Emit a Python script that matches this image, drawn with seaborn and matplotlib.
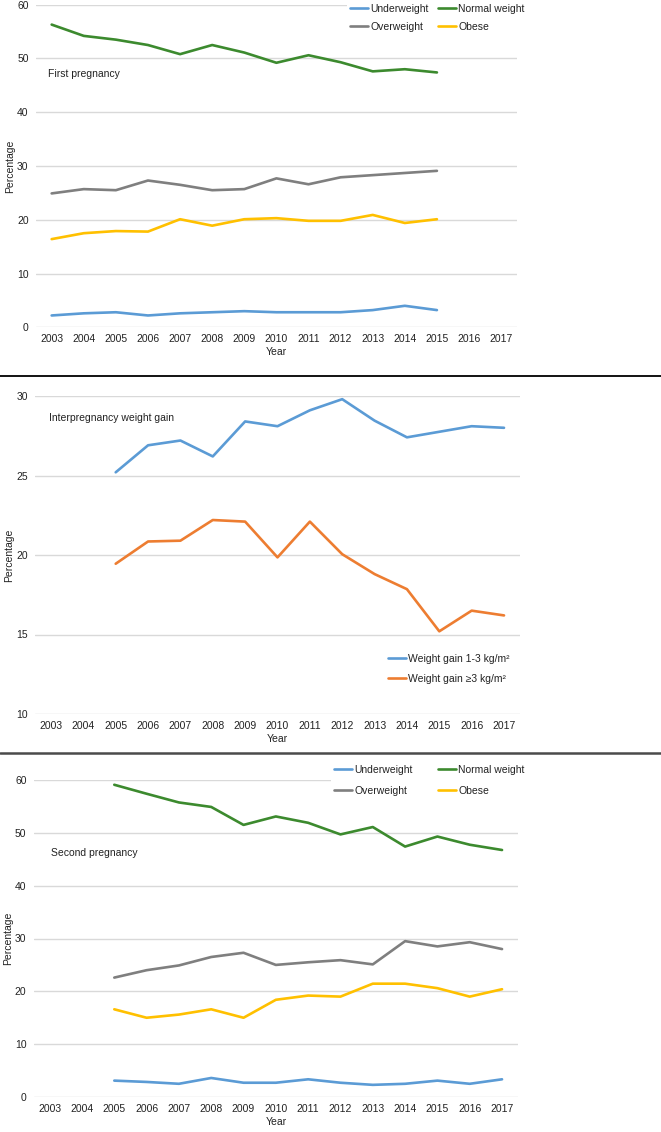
import matplotlib
matplotlib.use("Agg")
import matplotlib.pyplot as plt
from matplotlib.lines import Line2D
import numpy as np
import pandas as pd
import seaborn as sns

# ---- data ----
years_all = list(range(2003, 2018))
years_first = list(range(2003, 2016))
years_later = list(range(2005, 2018))

first_under = [2.2, 2.6, 2.8, 2.2, 2.6, 2.8, 3.0, 2.8, 2.8, 2.8, 3.2, 4.0, 3.2]
first_normal = [56.3, 54.2, 53.5, 52.5, 50.8, 52.5, 51.1, 49.2, 50.6, 49.3, 47.6, 48.0, 47.4]
first_over = [24.9, 25.7, 25.5, 27.3, 26.5, 25.5, 25.7, 27.7, 26.6, 27.9, 28.3, 28.7, 29.1]
first_obese = [16.4, 17.5, 17.9, 17.8, 20.1, 18.9, 20.1, 20.3, 19.8, 19.8, 20.9, 19.4, 20.1]

gain_1_3 = [25.2, 26.9, 27.2, 26.2, 28.4, 28.1, 29.1, 29.8, 28.45, 27.4, 27.75, 28.1, 28.0]
gain_3 = [19.45, 20.85, 20.9, 22.2, 22.1, 19.85, 22.1, 20.05, 18.8, 17.85, 15.2, 16.5, 16.2]

second_under = [3.1, 2.85, 2.5, 3.6, 2.7, 2.7, 3.35, 2.7, 2.3, 2.5, 3.1, 2.5, 3.35]
second_normal = [59.1, 57.4, 55.75, 54.9, 51.5, 53.1, 51.9, 49.7, 51.1, 47.4, 49.3, 47.75, 46.75]
second_over = [22.6, 24.0, 24.9, 26.5, 27.3, 25.0, 25.5, 25.9, 25.1, 29.5, 28.5, 29.3, 28.0]
second_obese = [16.6, 15.0, 15.6, 16.6, 15.0, 18.4, 19.2, 19.0, 21.45, 21.45, 20.6, 19.0, 20.4]

BMI_LABELS = ["Underweight", "Normal weight", "Overweight", "Obese"]
BMI_COLORS = ["#5B9BD5", "#3C8A2E", "#7F7F7F", "#FFC000"]
GAIN_LABELS = ["Weight gain 1-3 kg/m²", "Weight gain ≥3 kg/m²"]
GAIN_COLORS = ["#5B9BD5", "#ED7D31"]

sns.set_theme(style="white")
plt.rcParams["font.family"] = ["Liberation Sans Narrow", "Liberation Sans", "DejaVu Sans"]
FS = 7.5
LW = 1.9
GRID = "#D9D9D9"
TXT = "#222222"
W, H = 661, 1132


def long_df(years, series, labels):
    frames = [pd.DataFrame({"Year": years, "value": s, "group": lab})
              for s, lab in zip(series, labels)]
    return pd.concat(frames, ignore_index=True)


def make_axes(fig, left_px, right_px, top_px, bottom_px):
    return fig.add_axes([left_px / W, 1 - bottom_px / H,
                         (right_px - left_px) / W, (bottom_px - top_px) / H])


def style_axes(ax, ylim, yticks):
    ax.set_xlim(2002.5, 2017.5)
    ax.set_ylim(*ylim)
    ax.set_xticks(years_all)
    ax.set_xticklabels([str(y) for y in years_all])
    ax.set_yticks(yticks)
    for s in ax.spines.values():
        s.set_visible(False)
    ax.grid(False)
    for t in yticks:
        ax.axhline(t, color=GRID, lw=1.0, zorder=0)
    ax.tick_params(axis="both", length=0, labelsize=FS, colors=TXT)
    ax.tick_params(axis="x", pad=5)
    ax.tick_params(axis="y", pad=5)
    ax.set_xlabel("Year", fontsize=FS, labelpad=2, color=TXT)
    ax.set_ylabel("Percentage", fontsize=FS, color=TXT)
    ax.yaxis.set_label_coords(-0.043, 0.5)


fig = plt.figure(figsize=(W / 100, H / 100), dpi=100)

# ---- panel 1: first pregnancy ----
ax1 = make_axes(fig, 35.6, 517.2, 4.7, 327.3)
df1 = long_df(years_first, [first_under, first_normal, first_over, first_obese], BMI_LABELS)
sns.lineplot(data=df1, x="Year", y="value", hue="group", hue_order=BMI_LABELS,
             palette=BMI_COLORS, lw=LW, ax=ax1, legend=False)
style_axes(ax1, (0, 60), [0, 10, 20, 30, 40, 50, 60])
ax1.text(0.026, 0.785, "First pregnancy", transform=ax1.transAxes,
         fontsize=FS, va="center", ha="left", color=TXT)

# ---- panel 2: interpregnancy weight gain ----
ax2 = make_axes(fig, 34.8, 520.2, 396, 714)
df2 = long_df(years_later, [gain_1_3, gain_3], GAIN_LABELS)
sns.lineplot(data=df2, x="Year", y="value", hue="group", hue_order=GAIN_LABELS,
             palette=GAIN_COLORS, lw=LW, ax=ax2, legend=False)
style_axes(ax2, (10, 30), [10, 15, 20, 25, 30])
ax2.text(0.029, 0.931, "Interpregnancy weight gain", transform=ax2.transAxes,
         fontsize=FS, va="center", ha="left", color=TXT)

# ---- panel 3: second pregnancy ----
ax3 = make_axes(fig, 33.5, 518.2, 780, 1097)
df3 = long_df(years_later, [second_under, second_normal, second_over, second_obese], BMI_LABELS)
sns.lineplot(data=df3, x="Year", y="value", hue="group", hue_order=BMI_LABELS,
             palette=BMI_COLORS, lw=LW, ax=ax3, legend=False)
style_axes(ax3, (0, 60), [0, 10, 20, 30, 40, 50, 60])
ax3.text(0.036, 0.770, "Second pregnancy", transform=ax3.transAxes,
         fontsize=FS, va="center", ha="left", color=TXT)


def bmi_handles():
    # ordered so that ncol=2 reads row-wise: Underweight, Normal / Overweight, Obese
    order = [0, 2, 1, 3]
    hs = [Line2D([], [], color=BMI_COLORS[i], lw=LW) for i in order]
    ls = [BMI_LABELS[i] for i in order]
    return hs, ls


legend_kw = dict(fontsize=FS, frameon=True, facecolor="white", edgecolor="none",
                 framealpha=1.0, handlelength=1.7, handletextpad=0.25,
                 borderpad=0.3, borderaxespad=0, bbox_transform=fig.transFigure)

hs, ls = bmi_handles()
leg1 = ax1.legend(hs, ls, ncol=2, loc="upper left", columnspacing=0.9,
                  labelspacing=0.75, bbox_to_anchor=(347 / W, 1 - 1 / H), **legend_kw)
leg1.set_zorder(10)
for t in leg1.get_texts():
    t.set_color(TXT)

hs2 = [Line2D([], [], color=c, lw=LW) for c in GAIN_COLORS]
leg2 = ax2.legend(hs2, GAIN_LABELS, ncol=1, loc="upper left", labelspacing=0.9,
                  bbox_to_anchor=(385 / W, 1 - 651 / H), **legend_kw)
for t in leg2.get_texts():
    t.set_color(TXT)

hs, ls = bmi_handles()
leg3 = ax3.legend(hs, ls, ncol=2, loc="upper left", columnspacing=2.4,
                  labelspacing=1.05, bbox_to_anchor=(331 / W, 1 - 762 / H), **legend_kw)
for t in leg3.get_texts():
    t.set_color(TXT)

# panel separators
fig.add_artist(Line2D([0, 1], [1 - 376 / H, 1 - 376 / H], transform=fig.transFigure,
                      color="black", lw=1.3))
fig.add_artist(Line2D([0, 1], [1 - 753 / H, 1 - 753 / H], transform=fig.transFigure,
                      color="#4A4A4A", lw=1.8))

fig.savefig("out.png", dpi=100, facecolor="white")
